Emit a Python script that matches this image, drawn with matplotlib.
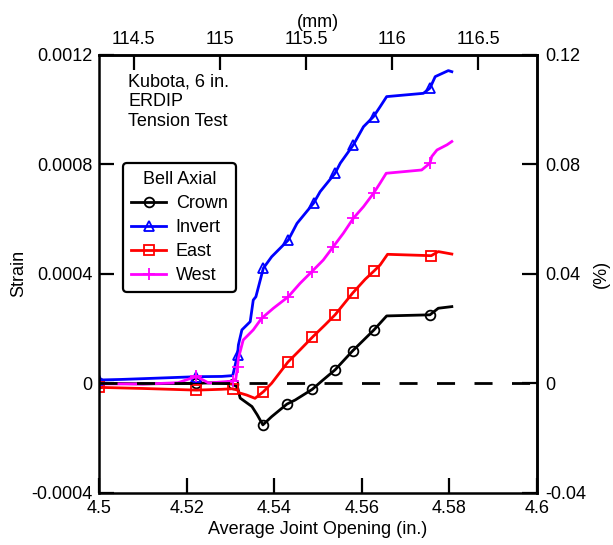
import matplotlib
matplotlib.use("Agg")
import matplotlib.pyplot as plt
from matplotlib.ticker import FuncFormatter, FixedLocator

plt.rcParams['font.family'] = ['Liberation Sans', 'DejaVu Sans']
plt.rcParams['font.size'] = 13

# joint opening (in.) and bell axial strain
crown_x = [4.5, 4.51, 4.5222, 4.527, 4.5305, 4.5316, 4.5322, 4.5349, 4.5361, 4.5374,
           4.5394, 4.5429, 4.5448, 4.5487, 4.5510, 4.5539, 4.5579, 4.5628, 4.5657,
           4.5756, 4.5775, 4.5806]
crown_y = [0.0, -2e-6, 0.0, 2e-6, -3e-6, -1.4e-5, -5.4e-5, -8.5e-5, -1.15e-4, -1.52e-4,
           -1.22e-4, -7.6e-5, -6.1e-5, -2.2e-5, 1.0e-5, 4.9e-5, 1.18e-4, 1.95e-4, 2.46e-4,
           2.50e-4, 2.74e-4, 2.80e-4]
crown_marks = [0, 2, 4, 9, 11, 13, 15, 16, 17, 19]

invert_x = [4.5, 4.505, 4.512, 4.5222, 4.528, 4.5305, 4.5316, 4.5318, 4.5326, 4.5345,
            4.5352, 4.5358, 4.5368, 4.5375, 4.5394, 4.5432, 4.5452, 4.5490, 4.5505,
            4.5539, 4.5551, 4.5581, 4.5604, 4.5627, 4.5642, 4.5657, 4.5741, 4.5756,
            4.5768, 4.5798, 4.5806]
invert_y = [1.2e-5, 1.4e-5, 1.8e-5, 2.4e-5, 2.5e-5, 2.8e-5, 1.03e-4, 1.40e-4, 1.95e-4,
            2.25e-4, 3.04e-4, 3.16e-4, 3.77e-4, 4.20e-4, 4.62e-4, 5.23e-4, 5.84e-4,
            6.58e-4, 7.00e-4, 7.67e-4, 8.04e-4, 8.71e-4, 9.37e-4, 9.74e-4, 1.010e-3,
            1.047e-3, 1.059e-3, 1.078e-3, 1.120e-3, 1.142e-3, 1.138e-3]
invert_marks = [0, 3, 6, 13, 15, 17, 19, 21, 23, 27]

east_x = [4.5, 4.51, 4.5222, 4.528, 4.5305, 4.5316, 4.5320, 4.5337, 4.5356, 4.5375,
          4.5394, 4.5431, 4.5459, 4.5487, 4.5516, 4.5539, 4.5579, 4.5608, 4.5628,
          4.5642, 4.5659, 4.5759, 4.5775, 4.5806]
east_y = [-1.5e-5, -1.9e-5, -2.5e-5, -2.2e-5, -2.0e-5, -2.5e-5, -3.5e-5, -4.3e-5,
          -5.5e-5, -3.1e-5, 0.0, 7.7e-5, 1.22e-4, 1.68e-4, 2.13e-4, 2.50e-4, 3.29e-4,
          3.80e-4, 4.10e-4, 4.32e-4, 4.71e-4, 4.66e-4, 4.81e-4, 4.72e-4]
east_marks = [0, 2, 4, 9, 11, 13, 15, 16, 18, 21]

west_x = [4.5, 4.51, 4.518, 4.5222, 4.525, 4.5305, 4.5312, 4.5316, 4.5318, 4.5329,
          4.5352, 4.5371, 4.5398, 4.5432, 4.5459, 4.5486, 4.5512, 4.5535, 4.5558,
          4.5581, 4.5604, 4.5627, 4.5642, 4.5656, 4.5737, 4.5756, 4.5760, 4.5772,
          4.5795, 4.5806]
west_y = [-2e-6, -3e-6, 2e-6, 2.5e-5, 1e-6, 8e-6, 1.5e-5, 6.0e-5, 9.1e-5, 1.58e-4,
          1.95e-4, 2.37e-4, 2.74e-4, 3.16e-4, 3.65e-4, 4.08e-4, 4.50e-4, 4.99e-4,
          5.48e-4, 6.03e-4, 6.45e-4, 6.94e-4, 7.31e-4, 7.67e-4, 7.79e-4, 8.04e-4,
          8.28e-4, 8.52e-4, 8.71e-4, 8.83e-4]
west_marks = [0, 3, 5, 7, 11, 13, 15, 17, 19, 21, 25]

x_ticks = [4.5, 4.52, 4.54, 4.56, 4.58, 4.6]
y_ticks = [-0.0004, 0, 0.0004, 0.0008, 0.0012]
mm_ticks = [114.5, 115, 115.5, 116, 116.5]
pct_ticks = [-0.04, 0, 0.04, 0.08, 0.12]

fig = plt.figure(figsize=(6.13, 5.45), dpi=100)
ax = fig.add_axes([0.162, 0.0958, 0.7135, 0.8038])

ax.plot(crown_x, crown_y, '-', color='black', lw=2, marker='o', ms=7, mfc='none',
        mew=1.3, markevery=crown_marks, label='Crown')
ax.plot(invert_x, invert_y, '-', color='#0000ff', lw=2, marker='^', ms=7, mfc='none',
        mew=1.3, markevery=invert_marks, label='Invert')
ax.plot(east_x, east_y, '-', color='#ff0000', lw=2, marker='s', ms=7, mfc='none',
        mew=1.3, markevery=east_marks, label='East')
ax.plot(west_x, west_y, '-', color='#ff00ff', lw=2, marker='+', ms=9, mfc='none',
        mew=1.3, markevery=west_marks, label='West')

ax.axhline(0, color='black', lw=2, ls=(0, (6.5, 7)), zorder=3)

ax.set_xlim(4.5, 4.6)
ax.set_ylim(-0.0004, 0.0012)
ax.xaxis.set_major_locator(FixedLocator(x_ticks))
ax.yaxis.set_major_locator(FixedLocator(y_ticks))
ax.xaxis.set_major_formatter(FuncFormatter(lambda v, p: '%g' % round(v, 6)))
ax.yaxis.set_major_formatter(FuncFormatter(lambda v, p: '%g' % round(v, 8)))
ax.set_xlabel('Average Joint Opening (in.)', labelpad=3)
ax.set_ylabel('Strain', labelpad=3)

for s in ax.spines.values():
    s.set_linewidth(1.8)
ax.tick_params(axis='both', direction='in', length=11, width=1.6, pad=5, labelsize=13)

# top axis in mm, right axis in percent
top = ax.secondary_xaxis('top', functions=(lambda v: v * 25.4, lambda v: v / 25.4))
top.xaxis.set_major_locator(FixedLocator(mm_ticks))
top.xaxis.set_major_formatter(FuncFormatter(lambda v, p: '%g' % v))
top.tick_params(direction='in', length=11, width=1.6, pad=5, labelsize=13)
top.set_xlabel('(mm)', labelpad=3)
top.spines['top'].set_linewidth(1.8)

right = ax.secondary_yaxis('right', functions=(lambda v: v * 100, lambda v: v / 100))
right.yaxis.set_major_locator(FixedLocator(pct_ticks))
right.yaxis.set_major_formatter(FuncFormatter(lambda v, p: '%g' % round(v, 6)))
right.tick_params(direction='in', length=11, width=1.6, pad=6, labelsize=13)
right.set_ylabel('(%)', labelpad=5)
right.spines['right'].set_linewidth(1.8)

ax.text(0.066, 0.957, 'Kubota, 6 in.\nERDIP\nTension Test', transform=ax.transAxes,
        ha='left', va='top', fontsize=13, linespacing=1.2)

leg = ax.legend(title='Bell Axial', loc='upper left', bbox_to_anchor=(0.055, 0.752),
                borderaxespad=0, frameon=True, fancybox=True, edgecolor='black',
                handlelength=1.9, handletextpad=0.55, labelspacing=0.38, fontsize=13,
                title_fontsize=13, borderpad=0.45)
leg.get_frame().set_linewidth(1.6)
leg.get_frame().set_alpha(1)

fig.savefig('out.png', dpi=100)
